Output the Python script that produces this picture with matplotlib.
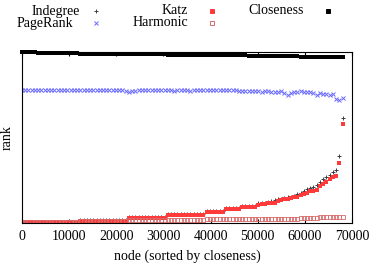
import numpy as np
import matplotlib
matplotlib.use("Agg")
import matplotlib.pyplot as plt

plt.rcParams["font.family"] = ["Liberation Serif", "DejaVu Serif"]
plt.rcParams["font.size"] = 10

# nodes sampled along the closeness ordering (every ~687th node)
nodes = np.arange(100) * 687

# ranks, normalised to the number of nodes
indegree = [0.008] * 18 + [0.018] * 15 + [0.033] * 12 + [0.053] * 12 + [0.072] * 6 + [0.088] * 5 + [0.102] * 5 + [
    0.115, 0.118, 0.120, 0.124, 0.129, 0.133, 0.140, 0.140, 0.145, 0.152,
    0.155, 0.160, 0.168, 0.175, 0.185, 0.199, 0.205, 0.213, 0.220, 0.240,
    0.258, 0.270, 0.280, 0.300, 0.310, 0.392, 0.614]
katz = [0.004] * 18 + [0.013] * 15 + [0.027] * 12 + [0.047] * 12 + [0.066] * 6 + [0.082] * 5 + [0.095] * 5 + [
    0.108, 0.110, 0.112, 0.115, 0.119, 0.120, 0.128, 0.133, 0.140, 0.140,
    0.148, 0.152, 0.155, 0.165, 0.172, 0.178, 0.185, 0.190, 0.196, 0.215,
    0.230, 0.238, 0.255, 0.268, 0.275, 0.351, 0.579]
harmonic = [0.005] * 18 + [0.010] * 15 + [0.015] * 12 + [0.020] * 12 + [0.022] * 16 + [0.026] * 13 + [
    0.030, 0.030, 0.031, 0.031, 0.032, 0.032, 0.033, 0.033, 0.034, 0.034,
    0.034, 0.035, 0.035, 0.035]
pagerank = [
    0.778, 0.778, 0.778, 0.778, 0.778, 0.778, 0.778, 0.778, 0.778, 0.778,
    0.778, 0.778, 0.778, 0.778, 0.778, 0.778, 0.778, 0.778, 0.778, 0.778,
    0.778, 0.778, 0.778, 0.778, 0.778, 0.778, 0.778, 0.778, 0.778, 0.778,
    0.778, 0.778, 0.772, 0.766, 0.772, 0.775, 0.776, 0.776, 0.776, 0.778,
    0.776, 0.776, 0.777, 0.777, 0.777, 0.776, 0.776, 0.775, 0.778, 0.778,
    0.777, 0.776, 0.774, 0.777, 0.778, 0.778, 0.776, 0.777, 0.777, 0.778,
    0.776, 0.778, 0.778, 0.777, 0.778, 0.776, 0.778, 0.772, 0.770, 0.774,
    0.772, 0.775, 0.770, 0.772, 0.768, 0.772, 0.770, 0.766, 0.768, 0.764,
    0.770, 0.758, 0.749, 0.762, 0.768, 0.766, 0.770, 0.768, 0.764, 0.768,
    0.760, 0.749, 0.762, 0.754, 0.756, 0.748, 0.752, 0.728, 0.722, 0.730]
closeness = [
    1.000, 0.999, 0.999, 0.998, 0.998, 0.997, 0.997, 0.997, 0.996, 0.996,
    0.996, 0.996, 0.995, 0.995, 0.995, 0.995, 0.995, 0.995] + [0.991] * 15 + [0.987] * 12 + [0.984] * 7 + [
    0.980] * 18 + [0.976] * 16 + [0.971] * 14

fig = plt.figure(figsize=(3.75, 2.63), dpi=100)
ax = fig.add_axes([0.0587, 0.152, 0.88, 0.650])

ax.plot(nodes, closeness, "s", color="black", ms=3.4, mew=0, clip_on=False)
ax.plot(nodes, pagerank, "x", color="#6a6aff", ms=3.0, mew=0.7)
ax.plot(nodes, indegree, "+", color="#404040", ms=3.5, mew=0.7)
ax.plot(nodes, katz, "s", color="#ff3a3a", ms=2.4, mew=0)
ax.plot(nodes, harmonic, "s", color="#d86a6a", ms=3.0, mew=0.6, mfc="none")

ax.set_xlim(0, 70000)
ax.set_ylim(0, 1.0)
ax.set_xticks(range(0, 70001, 10000))
ax.set_yticks([])
ax.tick_params(axis="x", direction="in", length=3, top=True, pad=5)
ax.set_xlabel("node (sorted by closeness)", labelpad=5)
ax.set_ylabel("rank", labelpad=6)

# gnuplot style key: text right-aligned, sample to the right
key = [
    ("Indegree", 80, 11, 96, "+", "#404040", "#404040"),
    ("PageRank", 73, 23, 96, "x", "#6a6aff", "#6a6aff"),
    ("Katz", 188, 11, 212, "s", "#ff3a3a", "#ff3a3a"),
    ("Harmonic", 188, 23, 212, "s", "#d86a6a", "none"),
    ("Closeness", 304, 11, 328, "s", "black", "black"),
]
W, H = 375.0, 263.0
for label, xr, yc, xm, mk, col, fc in key:
    fig.text(xr / W, 1 - yc / H, label, ha="right", va="center")
    fig.add_artist(plt.Line2D([xm / W], [1 - yc / H], marker=mk, color=col,
                              mfc=fc, ms=3.0, mew=0.7, ls="none", transform=fig.transFigure))

fig.savefig("out.png", dpi=100)
